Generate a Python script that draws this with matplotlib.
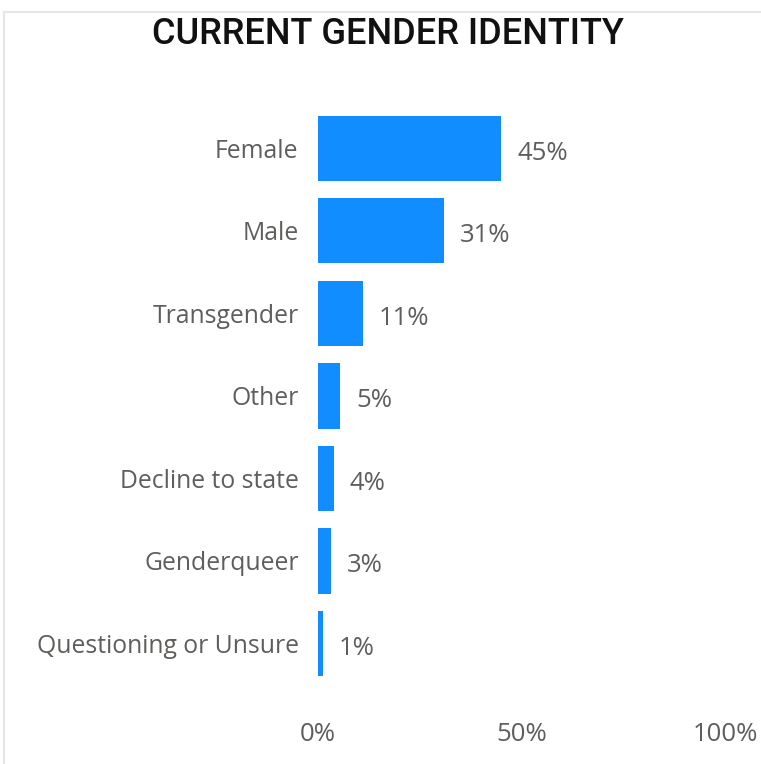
import matplotlib.pyplot as plt
from matplotlib.lines import Line2D

categories = ['Female', 'Male', 'Transgender', 'Other', 'Decline to state',
              'Genderqueer', 'Questioning or Unsure']
values = [45, 31, 11, 5.4, 3.9, 3.2, 1.15]
labels = ['45%', '31%', '11%', '5%', '4%', '3%', '1%']
ticks = [0, 50, 100]
tick_labels = ['0%', '50%', '100%']

W, H = 761, 764
fig = plt.figure(figsize=(W / 100, H / 100), dpi=100)
plt.rcParams['font.family'] = ['Open Sans', 'DejaVu Sans']

ax = fig.add_axes([318 / W, 1 - 684.8 / H, 407 / W, (684.8 - 107) / H])
y = list(range(len(categories)))
ax.barh(y, values, height=0.79, color='#118DFF')
ax.set_ylim(len(categories) - 0.5, -0.5)
ax.set_xlim(0, 100)

for yi, v, lab in zip(y, values, labels):
    ax.annotate(lab, (v, yi), xytext=(11.5, -3.5), textcoords='offset points',
                va='center', ha='left', fontsize=18.5, color='#605E5C')

ax.set_yticks(y)
ax.set_yticklabels(categories, fontsize=17.8, color='#605E5C')
ax.set_xticks(ticks)
ax.set_xticklabels(tick_labels, fontsize=18.5, color='#605E5C')
ax.tick_params(axis='y', length=0, pad=14)
ax.tick_params(axis='x', length=0, pad=27)
for s in ax.spines.values():
    s.set_visible(False)

fig.text(387.5 / W, 1 - 35 / H, 'CURRENT GENDER IDENTITY', ha='center', va='center',
         fontsize=26, fontweight='medium', color='#111111',
         family=['Liberation Sans Narrow', 'Roboto', 'DejaVu Sans'])

# light frame on top and left edges
fig.add_artist(Line2D([4 / W, 1], [1 - 12 / H, 1 - 12 / H], color='#E6E6E6', lw=1.5))
fig.add_artist(Line2D([4 / W, 4 / W], [0, 1 - 12 / H], color='#E6E6E6', lw=1.5))

fig.savefig('out.png', dpi=100)
